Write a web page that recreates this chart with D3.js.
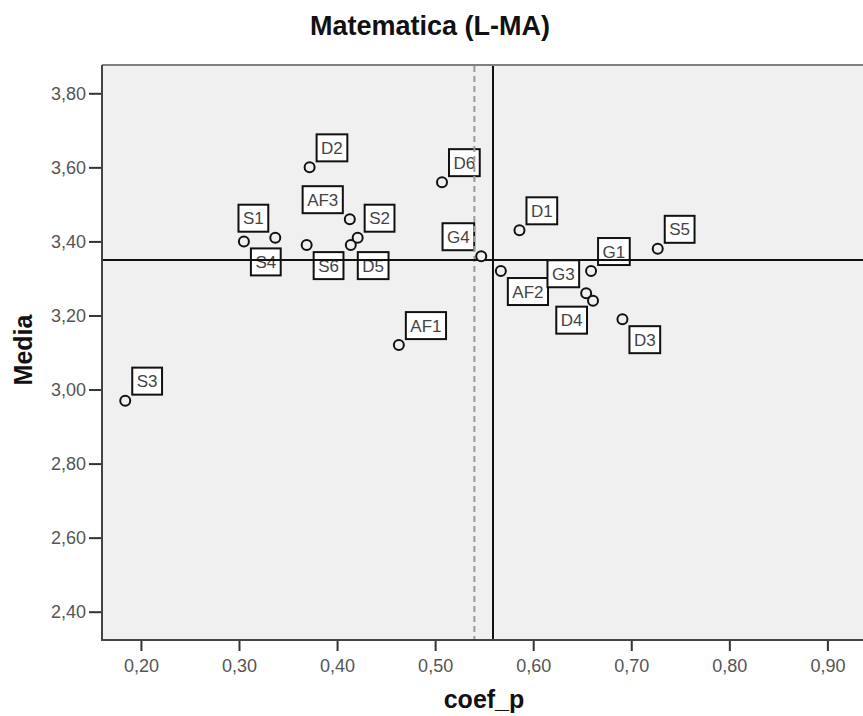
<!DOCTYPE html>
<html>
<head>
<meta charset="utf-8">
<script src="https://cdn.jsdelivr.net/npm/d3@7"></script>
<style>
  html, body { margin: 0; padding: 0; background: #ffffff; }
  svg { display: block; }
</style>
</head>
<body>
<div id="chart"></div>
<script>
// ---- Data ----
const labels = ["S3","S4","S1","S6","D2","AF3","D5","S2","AF1","D6","G4","AF2","D1","G3","D4","G1","D3","S5"];
const coefP  = [0.184,0.305,0.337,0.369,0.372,0.413,0.414,0.421,0.463,0.507,0.547,0.567,0.586,0.654,0.661,0.659,0.691,0.727];
const media  = [2.97,3.40,3.41,3.39,3.60,3.46,3.39,3.41,3.12,3.56,3.36,3.32,3.43,3.26,3.24,3.32,3.19,3.38];
const xTicks = [0.20,0.30,0.40,0.50,0.60,0.70,0.80,0.90];
const yTicks = [2.40,2.60,2.80,3.00,3.20,3.40,3.60,3.80];
const refX = 0.559;        // solid vertical reference line
const refXDashed = 0.540;  // dashed vertical reference line
const refY = 3.35;         // horizontal reference line
const title = "Matematica (L-MA)";
const xTitle = "coef_p";
const yTitle = "Media";

// label placement (layout only): ur = upper-right, lr = lower-right, ul = upper-left, ll = lower-left
const labelPlacement = {S3:"ur",D2:"ur",D6:"ur",D1:"ur",S5:"ur",AF1:"ur",S2:"ur",G1:"ur",
                        S4:"lr",S6:"lr",D5:"lr",AF2:"lr",D3:"lr",
                        S1:"ul",AF3:"ul",G4:"ul",G3:"ul",D4:"ll"};

// ---- Layout ----
const W = 863, H = 716;
const plot = {left: 102, top: 65, right: 863, bottom: 640};
const font = "'Liberation Sans', Arial, sans-serif";

const svg = d3.select("#chart").append("svg").attr("width", W).attr("height", H);

const x = d3.scaleLinear().domain([0.1603, 0.9363]).range([plot.left, plot.right]);
const y = d3.scaleLinear().domain([2.3236, 3.8764]).range([plot.bottom, plot.top]);
const fmt = v => d3.format(".2f")(v).replace(".", ",");

// plot background
svg.append("rect")
  .attr("x", plot.left).attr("y", plot.top)
  .attr("width", plot.right - plot.left).attr("height", plot.bottom - plot.top)
  .attr("fill", "#f0f0f0");

// top border
svg.append("line")
  .attr("x1", plot.left).attr("x2", plot.right)
  .attr("y1", plot.top).attr("y2", plot.top)
  .attr("stroke", "#808080").attr("stroke-width", 2);

// axes
const xAxis = d3.axisBottom(x).tickValues(xTicks).tickFormat(fmt).tickSize(11).tickPadding(8);
const yAxis = d3.axisLeft(y).tickValues(yTicks).tickFormat(fmt).tickSize(13).tickPadding(3);

const gx = svg.append("g").attr("transform", `translate(0,${plot.bottom})`).call(xAxis);
const gy = svg.append("g").attr("transform", `translate(${plot.left},0)`).call(yAxis);
[gx, gy].forEach(g => {
  g.select(".domain").remove();
  g.selectAll(".tick line").attr("stroke", "#333").attr("stroke-width", 2);
  g.selectAll(".tick text").attr("fill", "#555").attr("font-family", font).attr("font-size", 18);
});
// axis lines
svg.append("line").attr("x1", plot.left).attr("x2", plot.left).attr("y1", plot.top).attr("y2", plot.bottom + 1)
  .attr("stroke", "#444").attr("stroke-width", 2);
svg.append("line").attr("x1", plot.left - 1).attr("x2", plot.right).attr("y1", plot.bottom).attr("y2", plot.bottom)
  .attr("stroke", "#444").attr("stroke-width", 2);

// data
const data = labels.map((l, i) => ({label: l, x: coefP[i], y: media[i]}));

// labels (boxes)
const lg = svg.append("g");
data.forEach(d => {
  const px = x(d.x), py = y(d.y);
  const g = lg.append("g");
  const t = g.append("text").text(d.label)
    .attr("font-family", font).attr("font-size", 17).attr("fill", "#444");
  const tw = t.node().getComputedTextLength();
  const bw = tw + 9, bh = 27;
  const p = labelPlacement[d.label] || "ur";
  let bx, by;
  if (p === "ur") { bx = px + 7; by = py - 33; }
  else if (p === "lr") { bx = px + 7; by = py + 7; }
  else if (p === "ul") { bx = px - 7 - bw; by = py - 33; }
  else { bx = px - 6 - bw; by = py + 6; }
  g.insert("rect", "text").attr("x", bx).attr("y", by).attr("width", bw).attr("height", bh)
    .attr("fill", "#ffffff").attr("stroke", "#111").attr("stroke-width", 2);
  t.attr("x", bx + bw / 2).attr("y", by + bh / 2 + 6).attr("text-anchor", "middle");
});

// reference lines
svg.append("line")
  .attr("x1", x(refXDashed)).attr("x2", x(refXDashed)).attr("y1", plot.top + 1).attr("y2", plot.bottom - 1)
  .attr("stroke", "#9a9a9a").attr("stroke-width", 2).attr("stroke-dasharray", "6,4");
svg.append("line")
  .attr("x1", x(refX)).attr("x2", x(refX)).attr("y1", plot.top + 1).attr("y2", plot.bottom - 1)
  .attr("stroke", "#111").attr("stroke-width", 2);
svg.append("line")
  .attr("x1", plot.left + 1).attr("x2", plot.right).attr("y1", y(refY)).attr("y2", y(refY))
  .attr("stroke", "#111").attr("stroke-width", 2);

// points
svg.append("g").selectAll("circle").data(data).join("circle")
  .attr("cx", d => x(d.x)).attr("cy", d => y(d.y)).attr("r", 5)
  .attr("fill", "#f0f0f0").attr("stroke", "#111").attr("stroke-width", 2);

// titles
svg.append("text").attr("x", 430).attr("y", 35).attr("text-anchor", "middle")
  .attr("font-family", font).attr("font-weight", "bold").attr("font-size", 27).attr("fill", "#111")
  .text(title);
svg.append("text").attr("x", 484).attr("y", 708).attr("text-anchor", "middle")
  .attr("font-family", font).attr("font-weight", "bold").attr("font-size", 25).attr("fill", "#111")
  .text(xTitle);
svg.append("text").attr("transform", `translate(32,350) rotate(-90)`).attr("text-anchor", "middle")
  .attr("font-family", font).attr("font-weight", "bold").attr("font-size", 25).attr("fill", "#111")
  .text(yTitle);
</script>
</body>
</html>
